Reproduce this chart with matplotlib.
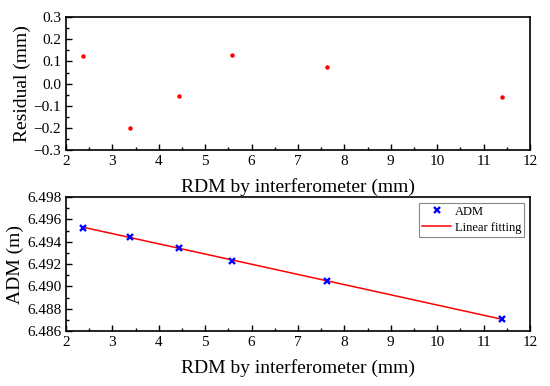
import numpy as np
import matplotlib.pyplot as plt
from matplotlib.ticker import MultipleLocator

# data
rdm = [2.36, 3.38, 4.44, 5.58, 7.63, 11.40]          # mm
residual = [0.123, -0.199, -0.055, 0.130, 0.076, -0.059]  # mm
adm = [6.49527, 6.49443, 6.49347, 6.49230, 6.49044, 6.48708]  # m

plt.rcParams['font.family'] = ['Liberation Serif', 'DejaVu Serif']

fig = plt.figure(figsize=(5.5, 3.86), dpi=100)
ax1 = fig.add_axes([0.12, 0.611, 0.8436, 0.3446])
ax2 = fig.add_axes([0.12, 0.1425, 0.8436, 0.347])

# top: residuals
ax1.plot(rdm, residual, 'o', color='red', markersize=3.2, markeredgewidth=0)
ax1.set_xlim(2, 12)
ax1.set_ylim(-0.3, 0.3)
ax1.yaxis.set_major_locator(MultipleLocator(0.1))
ax1.yaxis.set_minor_locator(MultipleLocator(0.05))
ax1.yaxis.set_major_formatter(plt.FuncFormatter(lambda v, p: f'{v:.1f}'.replace('-', '\u2212')))
ax1.set_ylabel('Residual (mm)', fontsize=14, labelpad=2)
ax1.set_xlabel('RDM by interferometer (mm)', fontsize=14, labelpad=7)

# bottom: ADM with linear fit
k, b = np.polyfit(rdm, adm, 1)
xfit = np.array([min(rdm), max(rdm)])
ax2.plot(xfit, k * xfit + b, color='red', linewidth=1.1, label='Linear fitting', zorder=2)
ax2.plot(rdm, adm, 'x', color='blue', markersize=5, markeredgewidth=1.7,
         linestyle='none', label='ADM', zorder=3)
ax2.set_xlim(2, 12)
ax2.set_ylim(6.486, 6.498)
ax2.yaxis.set_major_locator(MultipleLocator(0.002))
ax2.yaxis.set_minor_locator(MultipleLocator(0.001))
ax2.yaxis.set_major_formatter(plt.FuncFormatter(lambda v, p: f'{v:.3f}'))
ax2.set_ylabel('ADM (m)', fontsize=14, labelpad=2)
ax2.set_xlabel('RDM by interferometer (mm)', fontsize=14, labelpad=7)
h, l = ax2.get_legend_handles_labels()
leg = ax2.legend(h[::-1], l[::-1], loc='upper right', fontsize=9, fancybox=False,
                 edgecolor='#888888', framealpha=1, borderaxespad=0.45,
                 handlelength=2.3, handletextpad=0.3, borderpad=0.25, labelspacing=0.3)
leg.get_frame().set_linewidth(0.8)

for ax in (ax1, ax2):
    ax.xaxis.set_major_locator(MultipleLocator(1))
    ax.xaxis.set_minor_locator(MultipleLocator(0.5))
    ax.tick_params(which='both', direction='in', top=False, right=False,
                   labelsize=11, width=1)
    ax.tick_params(which='major', length=4)
    ax.tick_params(which='minor', length=2)
    for s in ax.spines.values():
        s.set_linewidth(1.2)

fig.savefig('out.png', dpi=100)
